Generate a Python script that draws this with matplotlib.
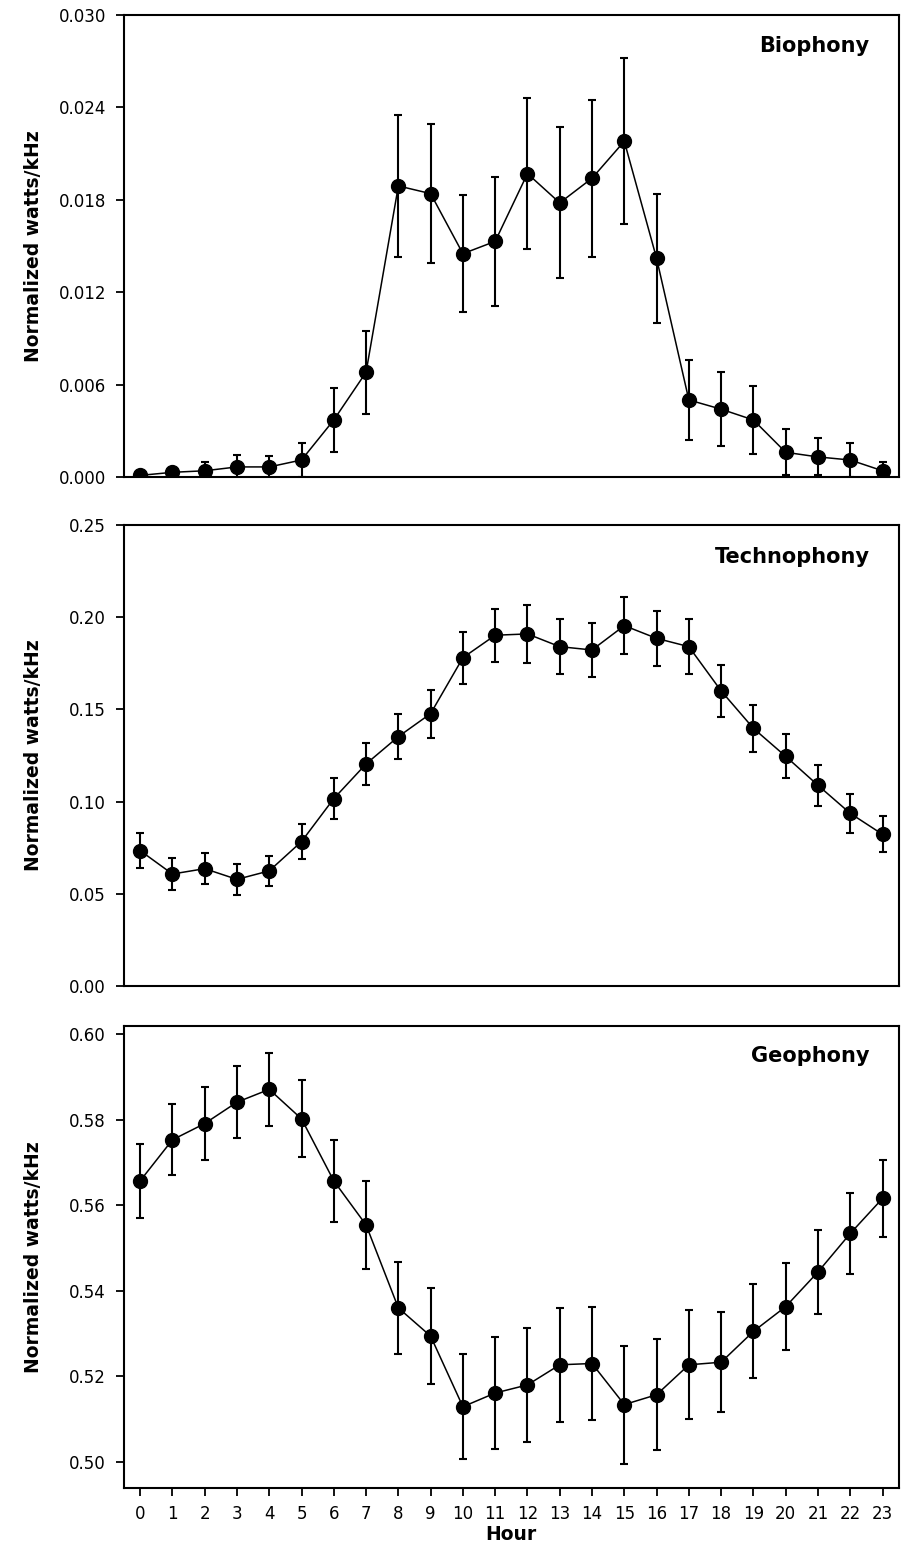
import numpy as np
import matplotlib
matplotlib.use('Agg')
import matplotlib.pyplot as plt

# Hourly means and error bars for each soundscape component
hours = list(range(24))

bio = [0.0001, 0.0003, 0.0004, 0.00065, 0.00065, 0.0011, 0.0037, 0.0068,
       0.0189, 0.0184, 0.0145, 0.0153, 0.0197, 0.0178, 0.0194, 0.0218,
       0.0142, 0.0050, 0.0044, 0.0037, 0.0016, 0.0013, 0.0011, 0.0004]
bio_err = [0.0001, 0.0003, 0.0006, 0.0008, 0.0007, 0.0011, 0.0021, 0.0027,
           0.0046, 0.0045, 0.0038, 0.0042, 0.0049, 0.0049, 0.0051, 0.0054,
           0.0042, 0.0026, 0.0024, 0.0022, 0.0015, 0.0012, 0.0011, 0.0006]

tech = [0.0734, 0.0607, 0.0636, 0.0578, 0.0624, 0.0783, 0.1016, 0.1204,
        0.1352, 0.1477, 0.1780, 0.1902, 0.1909, 0.1840, 0.1822, 0.1954,
        0.1885, 0.1840, 0.1600, 0.1397, 0.1245, 0.1088, 0.0936, 0.0822]
tech_err = [0.0094, 0.0085, 0.0083, 0.0083, 0.0083, 0.0093, 0.0110, 0.0114,
            0.0122, 0.0130, 0.0140, 0.0143, 0.0155, 0.0150, 0.0148, 0.0155,
            0.0150, 0.0150, 0.0139, 0.0127, 0.0120, 0.0110, 0.0107, 0.0097]

geo = [0.5657, 0.5753, 0.5791, 0.5841, 0.5871, 0.5802, 0.5657, 0.5554,
       0.5360, 0.5294, 0.5129, 0.5161, 0.5180, 0.5227, 0.5230, 0.5134,
       0.5157, 0.5227, 0.5233, 0.5305, 0.5363, 0.5444, 0.5534, 0.5616]
geo_err = [0.0087, 0.0083, 0.0086, 0.0084, 0.0086, 0.0090, 0.0096, 0.0103,
           0.0107, 0.0113, 0.0123, 0.0130, 0.0133, 0.0133, 0.0133, 0.0138,
           0.0130, 0.0127, 0.0117, 0.0110, 0.0101, 0.0098, 0.0094, 0.0090]

titles = ['Biophony', 'Technophony', 'Geophony']
ylims = [(0, 0.030), (0, 0.25), (0.4939, 0.6019)]
yticks = [[0.000, 0.006, 0.012, 0.018, 0.024, 0.030],
          [0.00, 0.05, 0.10, 0.15, 0.20, 0.25],
          [0.50, 0.52, 0.54, 0.56, 0.58, 0.60]]
yfmt = ['{:.3f}', '{:.2f}', '{:.2f}']

fig = plt.figure(figsize=(9.05, 15.49), dpi=100)

# axes boxes: [left, bottom, width, height] in figure fraction
boxes = [[0.137, 0.6921, 0.856, 0.2982],
         [0.137, 0.3635, 0.856, 0.2976],
         [0.137, 0.0394, 0.856, 0.2982]]
title_y = [0.955, 0.953, 0.957]

for i, (means, errs) in enumerate([(bio, bio_err), (tech, tech_err), (geo, geo_err)]):
    ax = fig.add_axes(boxes[i])
    ax.errorbar(hours, means, yerr=errs, color='black', lw=1.1,
                marker='o', markersize=10, elinewidth=1.5,
                capsize=3, capthick=1.5)
    ax.set_xlim(-0.5, 23.5)
    ax.set_ylim(*ylims[i])
    ax.set_yticks(yticks[i])
    ax.set_yticklabels([yfmt[i].format(t) for t in yticks[i]])
    for s in ax.spines.values():
        s.set_linewidth(1.5)
    ax.tick_params(axis='y', direction='out', length=6, width=1.3,
                   labelsize=12, pad=7)
    ax.set_xticks(hours)
    if i < 2:
        ax.tick_params(axis='x', bottom=False, labelbottom=False)
    else:
        ax.tick_params(axis='x', direction='out', length=6, width=1.3,
                       labelsize=12, pad=6)
        ax.set_xlabel('Hour', fontsize=13.5, fontweight='bold', labelpad=2)
    ax.set_ylabel('Normalized watts/kHz', fontsize=13.5, fontweight='bold')
    ax.yaxis.set_label_coords(-0.104, 0.5)
    ax.text(0.9626, title_y[i], titles[i], transform=ax.transAxes,
            ha='right', va='top', fontsize=15, fontweight='bold')

plt.savefig('out.png', dpi=100)
